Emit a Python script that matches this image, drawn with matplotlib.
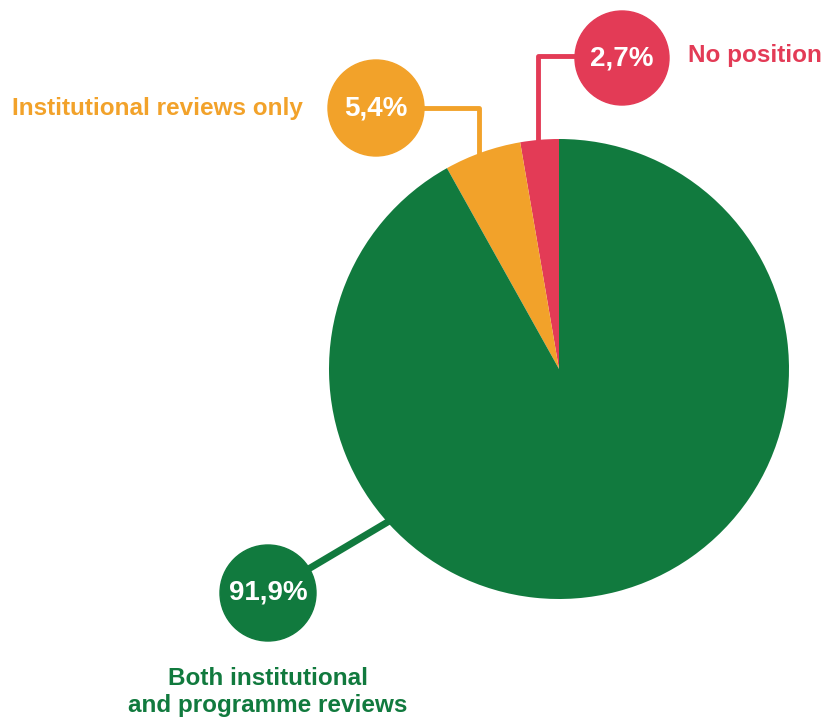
import matplotlib
matplotlib.use('Agg')
import matplotlib.pyplot as plt
from matplotlib.patches import Circle
import numpy as np

plt.rcParams['font.family'] = ['Liberation Sans', 'DejaVu Sans']

# data (counterclockwise from the top)
labels = ['No position', 'Institutional reviews only', 'Both institutional\nand programme reviews']
values = [2.7, 5.4, 91.9]
colors = ['#E33B56', '#F2A22A', '#117A3E']

W, H = 829, 722
fig = plt.figure(figsize=(W / 100, H / 100), dpi=100)
ax = fig.add_axes([0, 0, 1, 1])

cx, cy, r = 559, H - 369, 230
ax.pie(values, colors=colors, startangle=90, counterclock=True,
       center=(cx, cy), radius=r, frame=True,
       wedgeprops=dict(linewidth=0))
ax.set_xlim(0, W)
ax.set_ylim(0, H)
ax.set_aspect('equal')
ax.axis('off')

def edge(angle_deg, rr=r):
    a = np.radians(angle_deg)
    return cx + rr * np.cos(a), cy + rr * np.sin(a)

# callout layout: bubble centre and radius
bubbles = [(622, H - 58, 47), (376, H - 108, 48), (268, H - 593, 48)]
cum = np.cumsum([0] + values)
mids = [90 + (cum[i] + cum[i + 1]) / 2 * 3.6 for i in range(3)]

# red connector: up then right
x0, y0 = edge(mids[0], r - 2)
x0 = x0 - 2
ax.plot([x0, x0, bubbles[0][0]], [y0, H - 56, H - 56], color=colors[0], lw=3.5,
        solid_capstyle='butt', zorder=1)
# orange connector: up then left
x1, y1 = edge(mids[1], r - 4)
x1 = x1 - 5
ax.plot([x1, x1, bubbles[1][0]], [y1, H - 108, H - 108], color=colors[1], lw=3.5,
        solid_capstyle='butt', zorder=1)
# green connector: diagonal
x2, y2 = edge(222, r - 5)
ax.plot([x2, bubbles[2][0]], [y2, bubbles[2][1]], color=colors[2], lw=5,
        solid_capstyle='butt', zorder=1)

for (bx, by, br), v, c in zip(bubbles, values, colors):
    ax.add_patch(Circle((bx, by), br, color=c, zorder=3))
    ax.text(bx, by, f'{v:.1f}%'.replace('.', ','), color='white', fontsize=20,
            fontweight='bold', ha='center', va='center', zorder=4)

ax.text(688, H - 55, labels[0], color=colors[0], fontsize=17.5, fontweight='bold',
        ha='left', va='center')
ax.text(303, H - 108, labels[1], color=colors[1], fontsize=17.5, fontweight='bold',
        ha='right', va='center')
ax.text(268, H - 692, labels[2], color=colors[2], fontsize=17.5, fontweight='bold',
        ha='center', va='center', linespacing=1.2)

plt.savefig('out.png', dpi=100, facecolor='white')
